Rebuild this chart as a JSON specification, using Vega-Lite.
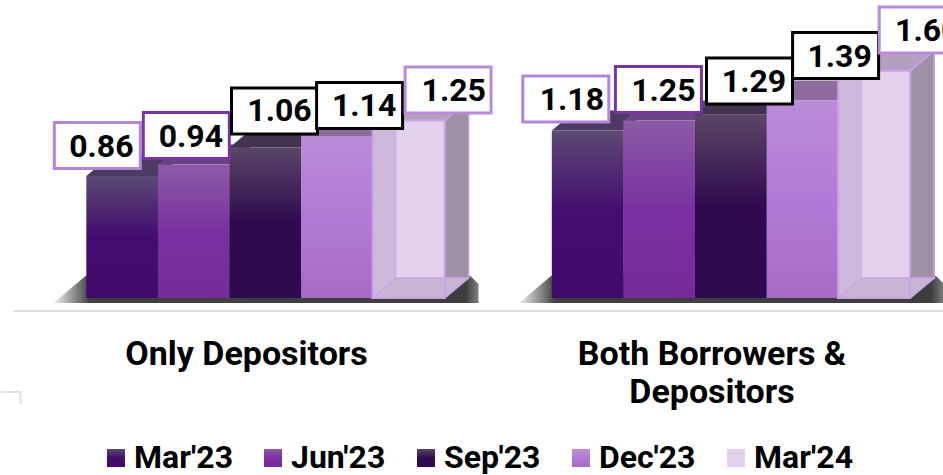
{"$schema":"https://vega.github.io/schema/vega-lite/v6.json","width":943,"height":475,"autosize":{"type":"none"},"padding":0,"background":"white","view":{"stroke":null},"config":{"axis":{"disable":true}},
"datasets":{"bars":[
{"group":"Only Depositors","series":"Mar'23","value":0.86},{"group":"Only Depositors","series":"Jun'23","value":0.94},{"group":"Only Depositors","series":"Sep'23","value":1.06},{"group":"Only Depositors","series":"Dec'23","value":1.14},{"group":"Only Depositors","series":"Mar'24","value":1.25},
{"group":"Both Borrowers & Depositors","series":"Mar'23","value":1.18},{"group":"Both Borrowers & Depositors","series":"Jun'23","value":1.25},{"group":"Both Borrowers & Depositors","series":"Sep'23","value":1.29},{"group":"Both Borrowers & Depositors","series":"Dec'23","value":1.39},{"group":"Both Borrowers & Depositors","series":"Mar'24","value":1.60}],
"groups":[{"group":"Only Depositors","lines":["Only Depositors"]},{"group":"Both Borrowers & Depositors","lines":["Both Borrowers &","Depositors"]}]},
"data":{"name":"bars"},
"encoding":{
"x":{"field":"group","type":"nominal","axis":null,"scale":{"domain":["Only Depositors","Both Borrowers & Depositors"],"range":[32.75,963.75],"paddingInner":0.231,"paddingOuter":0.1155}}},
"layer":[
{"data":{"values":[{"group":"Only Depositors"}]},"mark":{"type":"point","filled":false,"opacity":1,"size":4,"shape":"M-252,0H678","stroke":"#dddddd","strokeWidth":2},"encoding":{"y":{"datum":-0.0915,"type":"quantitative","axis":null,"scale":{"domain":[-1.2465,2.0986],"range":[475,0],"zero":false,"nice":false}}}},
{"data":{"name":"groups"},"mark":{"type":"point","filled":true,"opacity":1,"size":4,"shape":"M-212,5L-180,-22L205,-22L213,-14L213,5Z","fill":{"gradient":"linear","x1":0,"y1":0,"x2":1,"y2":0,"stops":[{"offset":0,"color":"#f0f0f0"},{"offset":0.04,"color":"#a0a0a0"},{"offset":0.085,"color":"#404040"},{"offset":0.97,"color":"#3d3d3d"},{"offset":1,"color":"#808080"}]}},"encoding":{"y":{"datum":0,"type":"quantitative","axis":null}}},
{"data":{"name":"groups"},"mark":{"type":"text","font":"Roboto","fontWeight":"bold","fontSize":34,"color":"#000000","baseline":"top","align":"center","lineHeight":38,"xOffset":-19},"encoding":{"y":{"datum":-0.28,"type":"quantitative","axis":null},"text":{"field":"lines"}}},
{"data":{"values":[{"group":"Only Depositors"}]},"mark":{"type":"point","filled":false,"opacity":1,"size":4,"shape":"M-265,0L-245,0L-245,12","stroke":"#e0e0e0","strokeWidth":2},"encoding":{"y":{"datum":-0.662,"type":"quantitative","axis":null}}},
{"encoding":{"y":{"field":"value","type":"quantitative","axis":null}},"layer":[
{"transform":[{"filter":"datum.series==\"Mar'23\""}],"mark":{"type":"point","filled":true,"opacity":1,"size":4,"shape":"M-36,0L36,0L60,-20L-12,-20Z","fill":"#4b3a63"},"encoding":{"xOffset":{"field":"series","scale":{"domain":["Mar'23","Jun'23","Sep'23","Dec'23","Mar'24"]}}}},
{"transform":[{"filter":"datum.series==\"Jun'23\""}],"mark":{"type":"point","filled":true,"opacity":1,"size":4,"shape":"M-36,0L36,0L60,-20L-12,-20Z","fill":"#694484"},"encoding":{"xOffset":{"field":"series"}}},
{"transform":[{"filter":"datum.series==\"Sep'23\""}],"mark":{"type":"point","filled":true,"opacity":1,"size":4,"shape":"M-36,0L36,0L60,-20L-12,-20Z","fill":"#423350"},"encoding":{"xOffset":{"field":"series"}}},
{"transform":[{"filter":"datum.series==\"Dec'23\""}],"mark":{"type":"point","filled":true,"opacity":1,"size":4,"shape":"M-36,0L36,0L60,-20L-12,-20Z","fill":"#8f6ba0"},"encoding":{"xOffset":{"field":"series"}}},
{"transform":[{"filter":"datum.series==\"Mar'24\""}],"mark":{"type":"point","filled":true,"opacity":1,"size":4,"shape":"M-36,0L36,0L60,-20L-12,-20Z","fill":"#b59fc0","stroke":"#c9a3e6","strokeWidth":1.5},"encoding":{"xOffset":{"field":"series"}}},
{"transform":[{"filter":"datum.series==\"Mar'24\" && datum.value<1.5"}],"mark":{"type":"point","filled":true,"opacity":1,"size":4,"shape":"M36,0L60,-20L60,157L36,177Z","fill":"#9f90a6","stroke":"#c9a3e6","strokeWidth":1.5},"encoding":{"xOffset":{"field":"series"}}},
{"transform":[{"filter":"datum.series==\"Mar'24\" && datum.value>1.5"}],"mark":{"type":"point","filled":true,"opacity":1,"size":4,"shape":"M36,0L60,-20L60,207L36,227Z","fill":"#9f90a6","stroke":"#c9a3e6","strokeWidth":1.5},"encoding":{"xOffset":{"field":"series"}}},
{"mark":{"type":"bar","width":72},"encoding":{"xOffset":{"field":"series"},"y2":{"datum":0},
"color":{"field":"series","type":"nominal","scale":{"domain":["Mar'23","Jun'23","Sep'23","Dec'23","Mar'24"],"range":[
{"expr":"{gradient:'linear',x1:0,y1:0,x2:0,y2:1,stops:[{offset:0,color:'#5c4a75'},{offset:0.5,color:'#430c6e'},{offset:1,color:'#410a6b'}]}"},
{"expr":"{gradient:'linear',x1:0,y1:0,x2:0,y2:1,stops:[{offset:0,color:'#8b5ba6'},{offset:0.5,color:'#7a30a0'},{offset:1,color:'#752c99'}]}"},
{"expr":"{gradient:'linear',x1:0,y1:0,x2:0,y2:1,stops:[{offset:0,color:'#5b4668'},{offset:0.5,color:'#2f0a4e'},{offset:1,color:'#2e0a4f'}]}"},
{"expr":"{gradient:'linear',x1:0,y1:0,x2:0,y2:1,stops:[{offset:0,color:'#bb8cd9'},{offset:0.5,color:'#b27ad6'},{offset:1,color:'#a76bc6'}]}"},
{"expr":"{gradient:'linear',x1:0,y1:0,x2:0,y2:1,stops:[{offset:0,color:'#e2d0ec'},{offset:1,color:'#e2d0ec'}]}"}]},
"legend":{"title":null,"orient":"none","legendX":100,"legendY":442,"direction":"horizontal","columns":5,"symbolType":"square","symbolSize":324,"symbolStrokeWidth":0,"labelFont":"Roboto","labelFontWeight":"bold","labelFontSize":32,"labelColor":"#000000","labelOffset":2,"columnPadding":24,"labelLimit":200}}}},
{"transform":[{"filter":"datum.series==\"Mar'24\" && datum.value<1.5"}],"mark":{"type":"point","filled":true,"opacity":1,"size":4,"shape":"M-36,0H-12V177H-36Z","fill":"#cdb8dd"},"encoding":{"xOffset":{"field":"series"}}},
{"transform":[{"filter":"datum.series==\"Mar'24\" && datum.value>1.5"}],"mark":{"type":"point","filled":true,"opacity":1,"size":4,"shape":"M-36,0H-12V227H-36Z","fill":"#cdb8dd"},"encoding":{"xOffset":{"field":"series"}}},
{"transform":[{"filter":"datum.series==\"Mar'24\""}],"mark":{"type":"point","filled":true,"opacity":1,"size":4,"shape":"M-36,0L36,0L60,-20L-12,-20Z","fill":"#c8b5d6","stroke":"#c9a3e6","strokeWidth":1.5},"encoding":{"xOffset":{"field":"series"},"y":{"datum":0}}},
{"transform":[{"filter":"datum.series==\"Mar'24\""}],"mark":{"type":"bar","width":72,"filled":false,"stroke":"#c9a3e6","strokeWidth":2},"encoding":{"xOffset":{"field":"series"},"y2":{"datum":0}}},
{"transform":[{"filter":"datum.value==0.86"}],"mark":{"type":"point","filled":true,"opacity":1,"size":4,"yOffset":-30.4,"shape":"M-68,-23H18V23H-68Z","fill":"white","stroke":"#b485d6","strokeWidth":3},"encoding":{"xOffset":{"field":"series"}}},
{"transform":[{"filter":"datum.value==0.86"}],"mark":{"type":"text","font":"Roboto","fontWeight":"bold","fontSize":32,"color":"#000","dx":-21,"yOffset":-29},"encoding":{"xOffset":{"field":"series"},"text":{"field":"value","format":".2f"}}},
{"transform":[{"filter":"datum.value==0.94"}],"mark":{"type":"point","filled":true,"opacity":1,"size":4,"yOffset":-29,"shape":"M-50.6,-23H35.4V23H-50.6Z","fill":"white","stroke":"#7a35a0","strokeWidth":3},"encoding":{"xOffset":{"field":"series"}}},
{"transform":[{"filter":"datum.value==0.94"}],"mark":{"type":"text","font":"Roboto","fontWeight":"bold","fontSize":32,"color":"#000","dx":-3,"yOffset":-28},"encoding":{"xOffset":{"field":"series"},"text":{"field":"value","format":".2f"}}},
{"transform":[{"filter":"datum.value==1.06"}],"mark":{"type":"point","filled":true,"opacity":1,"size":4,"yOffset":-36.5,"shape":"M-34,-23H52V23H-34Z","fill":"white","stroke":"#000","strokeWidth":3},"encoding":{"xOffset":{"field":"series"}}},
{"transform":[{"filter":"datum.value==1.06"}],"mark":{"type":"text","font":"Roboto","fontWeight":"bold","fontSize":32,"color":"#000","dx":14,"yOffset":-36},"encoding":{"xOffset":{"field":"series"},"text":{"field":"value","format":".2f"}}},
{"transform":[{"filter":"datum.value==1.14"}],"mark":{"type":"point","filled":true,"opacity":1,"size":4,"yOffset":-30.6,"shape":"M-20.5,-23H65.5V23H-20.5Z","fill":"white","stroke":"#000","strokeWidth":3},"encoding":{"xOffset":{"field":"series"}}},
{"transform":[{"filter":"datum.value==1.14"}],"mark":{"type":"text","font":"Roboto","fontWeight":"bold","fontSize":32,"color":"#000","dx":27,"yOffset":-30},"encoding":{"xOffset":{"field":"series"},"text":{"field":"value","format":".2f"}}},
{"transform":[{"filter":"datum.group==\"Only Depositors\" && datum.value==1.25"}],"mark":{"type":"point","filled":true,"opacity":1,"size":4,"yOffset":-30.5,"shape":"M-3.6,-23H82.4V23H-3.6Z","fill":"white","stroke":"#b98ad8","strokeWidth":3},"encoding":{"xOffset":{"field":"series"}}},
{"transform":[{"filter":"datum.group==\"Only Depositors\" && datum.value==1.25"}],"mark":{"type":"text","font":"Roboto","fontWeight":"bold","fontSize":32,"color":"#000","dx":45,"yOffset":-30},"encoding":{"xOffset":{"field":"series"},"text":{"field":"value","format":".2f"}}},
{"transform":[{"filter":"datum.value==1.18"}],"mark":{"type":"point","filled":true,"opacity":1,"size":4,"yOffset":-31.4,"shape":"M-65,-23H21V23H-65Z","fill":"white","stroke":"#b485d6","strokeWidth":3},"encoding":{"xOffset":{"field":"series"}}},
{"transform":[{"filter":"datum.value==1.18"}],"mark":{"type":"text","font":"Roboto","fontWeight":"bold","fontSize":32,"color":"#000","dx":-16,"yOffset":-30},"encoding":{"xOffset":{"field":"series"},"text":{"field":"value","format":".2f"}}},
{"transform":[{"filter":"datum.group!=\"Only Depositors\" && datum.value==1.25"}],"mark":{"type":"point","filled":true,"opacity":1,"size":4,"yOffset":-31,"shape":"M-44,-23H42V23H-44Z","fill":"white","stroke":"#7a35a0","strokeWidth":3},"encoding":{"xOffset":{"field":"series"}}},
{"transform":[{"filter":"datum.group!=\"Only Depositors\" && datum.value==1.25"}],"mark":{"type":"text","font":"Roboto","fontWeight":"bold","fontSize":32,"color":"#000","dx":4,"yOffset":-30},"encoding":{"xOffset":{"field":"series"},"text":{"field":"value","format":".2f"}}},
{"transform":[{"filter":"datum.value==1.29"}],"mark":{"type":"point","filled":true,"opacity":1,"size":4,"yOffset":-33.8,"shape":"M-24.5,-23H61.5V23H-24.5Z","fill":"white","stroke":"#000","strokeWidth":3},"encoding":{"xOffset":{"field":"series"}}},
{"transform":[{"filter":"datum.value==1.29"}],"mark":{"type":"text","font":"Roboto","fontWeight":"bold","fontSize":32,"color":"#000","dx":23,"yOffset":-33},"encoding":{"xOffset":{"field":"series"},"text":{"field":"value","format":".2f"}}},
{"transform":[{"filter":"datum.value==1.39"}],"mark":{"type":"point","filled":true,"opacity":1,"size":4,"yOffset":-45.1,"shape":"M-10,-23H76V23H-10Z","fill":"white","stroke":"#000","strokeWidth":3},"encoding":{"xOffset":{"field":"series"}}},
{"transform":[{"filter":"datum.value==1.39"}],"mark":{"type":"text","font":"Roboto","fontWeight":"bold","fontSize":32,"color":"#000","dx":37,"yOffset":-44},"encoding":{"xOffset":{"field":"series"},"text":{"field":"value","format":".2f"}}},
{"transform":[{"filter":"datum.value==1.6"}],"mark":{"type":"point","filled":true,"opacity":1,"size":4,"yOffset":-40.8,"shape":"M5,-23H91V23H5Z","fill":"white","stroke":"#b98ad8","strokeWidth":3},"encoding":{"xOffset":{"field":"series"}}},
{"transform":[{"filter":"datum.value==1.6"}],"mark":{"type":"text","font":"Roboto","fontWeight":"bold","fontSize":32,"color":"#000","dx":53,"yOffset":-40},"encoding":{"xOffset":{"field":"series"},"text":{"field":"value","format":".2f"}}}
]}
]}
